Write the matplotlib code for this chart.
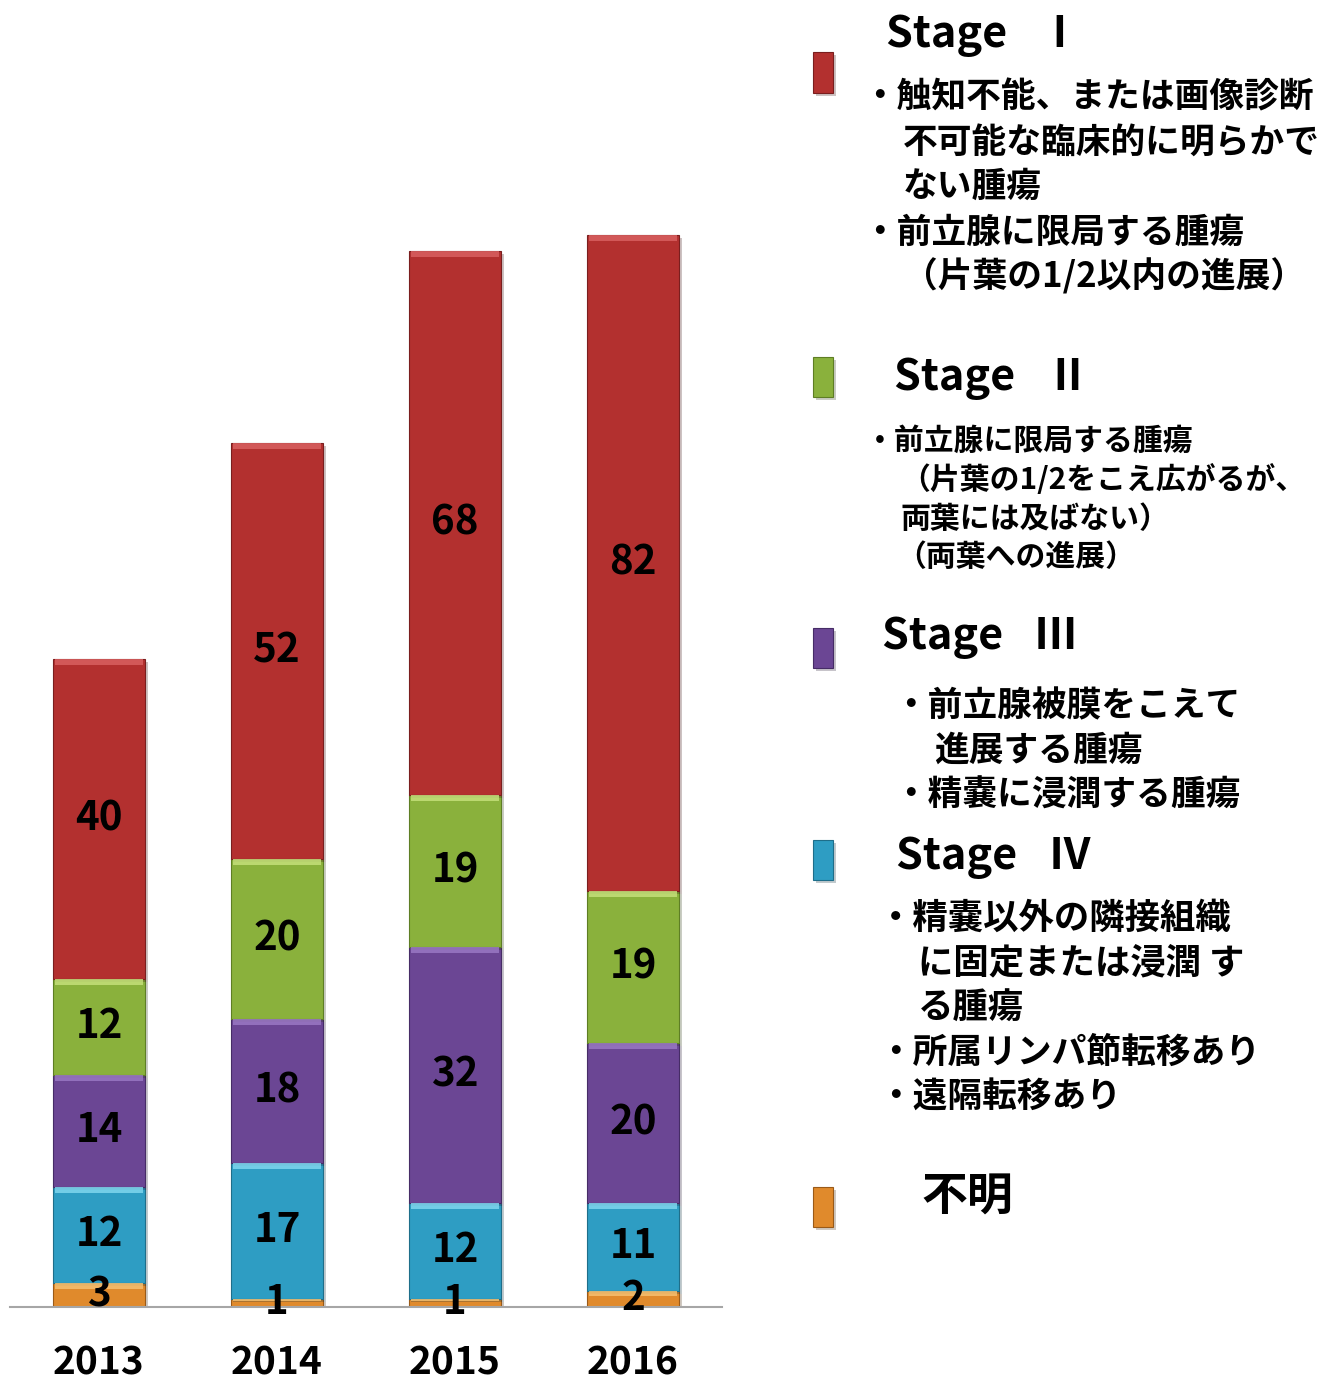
"""
前立腺癌 病期別 症例数 (2013-2016) 積み上げ棒グラフ + 右側の病期説明。
"""
import matplotlib
matplotlib.use("Agg")
import matplotlib.pyplot as plt
from matplotlib import patheffects
from matplotlib.patches import Rectangle

plt.rcParams["font.family"] = ["Noto Sans CJK JP", "DejaVu Sans"]

years = ["2013", "2014", "2015", "2016"]
unknown = [3, 1, 1, 2]
stage4 = [12, 17, 12, 11]
stage3 = [14, 18, 32, 20]
stage2 = [12, 20, 19, 19]
stage1 = [40, 52, 68, 82]

# 下から順に積む
series = [unknown, stage4, stage3, stage2, stage1]
COLORS = ["#E08A2C", "#2E9DC3", "#6B4694", "#8AB13C", "#B3302F"]
LIGHT = ["#F6C070", "#7FD6EE", "#9A78C4", "#C4E07A", "#D86060"]
EDGE = ["#9A5A18", "#1E6E8A", "#462C66", "#5E7E24", "#7A1E1E"]

W, H = 1325, 1385
fig = plt.figure(figsize=(W / 100, H / 100), dpi=100)


def fx(px):
    return px / W


def fy(py):
    return 1 - py / H


base_px = 1307
ax = fig.add_axes([fx(10), fy(base_px), fx(722) - fx(10), 1 - fy(base_px)])
ax.set_xlim(-0.5, 3.5)
ax.set_ylim(0, base_px / 8.0)

x = list(range(len(years)))
shadow = [patheffects.SimplePatchShadow(offset=(2, -2), alpha=0.25), patheffects.Normal()]
bottom = [0] * len(years)
for vals, c, lc, ec in zip(series, COLORS, LIGHT, EDGE):
    bars = ax.bar(x, vals, width=0.52, bottom=bottom, color=c,
                  edgecolor=ec, linewidth=0.8, zorder=2)
    for b in bars:
        b.set_path_effects(shadow)
    # 上端のハイライト
    top = [b + v for b, v in zip(bottom, vals)]
    hl = [min(0.7, v * 0.3) for v in vals]
    ax.bar(x, hl, width=0.49, bottom=[t - h for t, h in zip(top, hl)],
           color=lc, linewidth=0, alpha=0.85, zorder=3)
    for i, v in enumerate(vals):
        ax.text(x[i], bottom[i] + v / 2, str(v), ha="center", va="center",
                fontsize=29, fontweight="bold", color="black", zorder=5)
    bottom = top

for s in ["left", "right", "top"]:
    ax.spines[s].set_visible(False)
ax.spines["bottom"].set_color("#A6A6A6")
ax.spines["bottom"].set_linewidth(1.5)
ax.spines["bottom"].set_zorder(4)
ax.set_yticks([])
ax.set_xticks(x)
ax.set_xticklabels(years, fontsize=28, fontweight="bold")
ax.tick_params(axis="x", length=0, pad=26)

# 凡例マーカー (上端 y, 下端 y)
markers = [(52, 93, 4), (357, 397, 3), (628, 668, 2), (840, 880, 1), (1187, 1227, 0)]
for y0, y1, k in markers:
    r = Rectangle((fx(813), fy(y1)), fx(833) - fx(813), fy(y0) - fy(y1),
                  transform=fig.transFigure, facecolor=COLORS[k],
                  edgecolor=EDGE[k], linewidth=0.8)
    r.set_path_effects(shadow)
    fig.patches.append(r)

# 見出し
heads = [
    ("Stage\u2002 Ⅰ", 886, 35, 31),
    ("Stage\u2002 Ⅱ", 894, 378, 31),
    ("Stage\u2002 Ⅲ", 882, 637, 31),
    ("Stage\u2002 Ⅳ", 896, 857, 31),
    ("不明", 921, 1198, 33),
]
for t, px, py, sz in heads:
    fig.text(fx(px), fy(py), t, ha="left", va="center", fontsize=sz,
             fontweight="bold")

# 説明文 (文字列, 左端x, 中心y, サイズ)
body = [
    ("・触知不能、または画像診断", 862, 97, 25),
    ("不可能な臨床的に明らかで", 903, 142, 25),
    ("ない腫瘍", 903, 186, 25),
    ("・前立腺に限局する腫瘍", 862, 232, 25),
    ("（片葉の1/2以内の進展）", 903, 276, 25),
    ("・前立腺に限局する腫瘍", 865, 441, 21.5),
    ("（片葉の1/2をこえ広がるが、", 900, 480, 21.5),
    ("両葉には及ばない）", 900, 519, 21.5),
    ("（両葉への進展）", 896, 557, 21.5),
    ("・前立腺被膜をこえて", 893, 706, 25),
    ("進展する腫瘍", 934, 750, 25),
    ("・精嚢に浸潤する腫瘍", 893, 795, 25),
    ("・精嚢以外の隣接組織", 878, 918, 25.5),
    ("に固定または浸潤 す", 918, 963, 25.5),
    ("る腫瘍", 918, 1008, 25.5),
    ("・所属リンパ節転移あり", 878, 1052, 25),
    ("・遠隔転移あり", 878, 1097, 25),
]
for t, px, py, sz in body:
    fig.text(fx(px), fy(py), t, ha="left", va="center", fontsize=sz,
             fontweight="bold")

fig.savefig("out.png", dpi=100)
